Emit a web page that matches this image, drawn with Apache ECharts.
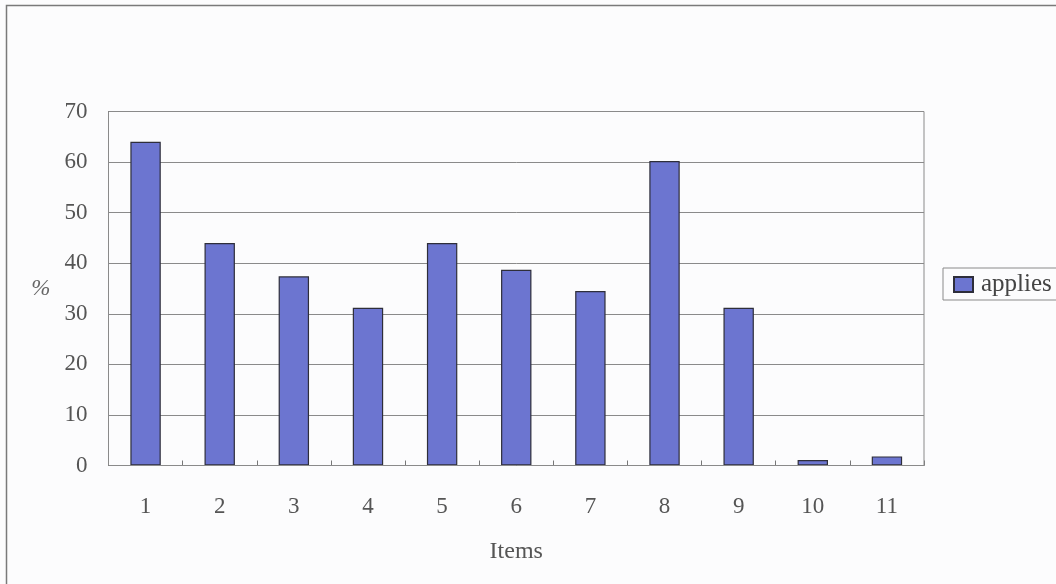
<!DOCTYPE html>
<html>
<head>
<meta charset="utf-8">
<script src="https://cdn.jsdelivr.net/npm/echarts@6/dist/echarts.min.js"></script>
<style>
  html, body { margin: 0; padding: 0; background: #fcfcfd; }
  #chart { width: 1056px; height: 584px; }
</style>
</head>
<body>
<div id="chart"></div>
<script>
// Items 1–11 and the share (%) to which each applies
const categories = ['1', '2', '3', '4', '5', '6', '7', '8', '9', '10', '11'];
const applies = [64, 44, 37.4, 31.2, 44, 38.7, 34.5, 60.2, 31.2, 1.1, 1.8];
const yTicks = { min: 0, max: 70, interval: 10 };

const serif = '"Liberation Serif", "DejaVu Serif", serif';
const textGrey = '#555';

const chart = echarts.init(document.getElementById('chart'), null, { renderer: 'canvas' });
chart.setOption({
  backgroundColor: '#fcfcfd',
  animation: false,
  graphic: [
    {
      // outer frame around the whole chart
      type: 'rect',
      shape: { x: 6.5, y: 5.5, width: 1100, height: 640 },
      style: { fill: 'none', stroke: '#7a7a7a', lineWidth: 1.5 },
      silent: true
    },
    {
      // plot area frame
      type: 'rect',
      shape: { x: 108.5, y: 111.5, width: 815.5, height: 354 },
      style: { fill: 'none', stroke: '#8a8a8a', lineWidth: 1 },
      silent: true,
      z: 10
    }
  ],
  grid: { left: 108.5, right: 132, top: 111.5, bottom: 118.5, containLabel: false },
  legend: {
    data: [{ name: 'applies', icon: 'rect' }],
    left: 943,
    top: 268,
    orient: 'vertical',
    padding: [4, 40, 3, 10],
    borderColor: '#8a8a8a',
    borderWidth: 1,
    itemWidth: 19,
    itemHeight: 15,
    itemGap: 0,
    textStyle: { fontFamily: serif, fontSize: 25, color: '#444', padding: [0, 0, 0, 3] }
  },
  xAxis: {
    type: 'category',
    data: categories,
    name: 'Items',
    nameLocation: 'middle',
    nameGap: 74,
    nameTextStyle: { fontFamily: serif, fontSize: 24, color: textGrey },
    axisLine: { show: true, lineStyle: { color: '#666', width: 1 } },
    axisTick: { show: true, inside: true, length: 5, alignWithLabel: false, lineStyle: { color: '#777' } },
    axisLabel: { fontFamily: serif, fontSize: 23, color: textGrey, margin: 30 }
  },
  yAxis: {
    type: 'value',
    min: yTicks.min,
    max: yTicks.max,
    interval: yTicks.interval,
    name: '%',
    nameLocation: 'middle',
    nameRotate: 0,
    nameGap: 58,
    nameTextStyle: { fontFamily: serif, fontSize: 23, color: '#666', fontStyle: 'italic', padding: [14, 0, 0, 0] },
    axisLine: { show: true, lineStyle: { color: '#666', width: 1 } },
    axisTick: { show: false },
    axisLabel: { fontFamily: serif, fontSize: 23, color: textGrey, margin: 21 },
    splitLine: { show: true, lineStyle: { color: '#8a8a8a', width: 1 } }
  },
  series: [{
    name: 'applies',
    type: 'bar',
    data: applies,
    barWidth: '41%',
    itemStyle: { color: '#6c75d0', borderColor: '#2e2e3a', borderWidth: 1.2 }
  }]
});
</script>
</body>
</html>
